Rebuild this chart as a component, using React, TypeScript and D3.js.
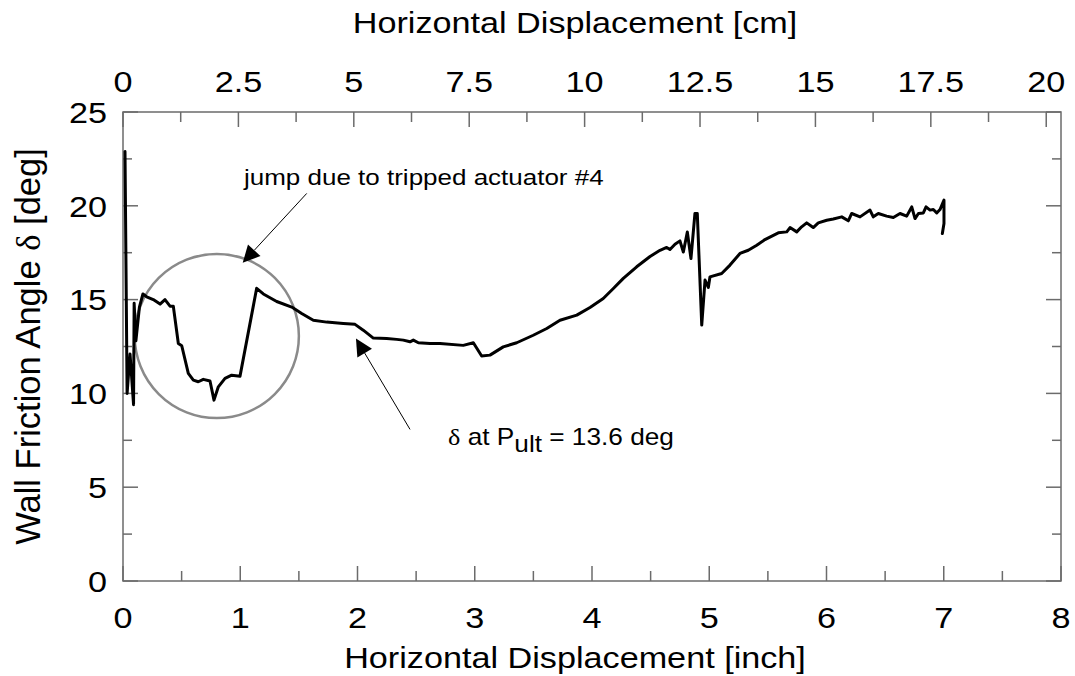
import React from "react";
import * as d3 from "d3";

// ---- data ----
const dispInch: number[] = [
  0.017, 0.035, 0.06, 0.09, 0.095, 0.11, 0.14, 0.17,
  0.202, 0.258, 0.316, 0.358, 0.401, 0.429, 0.472, 0.501, 0.557, 0.600,
  0.642, 0.685, 0.742, 0.776, 0.813, 0.870, 0.927, 0.998, 1.140, 1.197,
  1.311, 1.439, 1.524, 1.623, 1.737, 1.879, 1.979, 2.049, 2.135, 2.249,
  2.334, 2.391, 2.448, 2.476, 2.519, 2.618, 2.704, 2.902, 2.988, 3.059, 3.130, 3.243,
  3.358, 3.499, 3.614, 3.727, 3.870, 3.983, 4.096, 4.182, 4.267, 4.381,
  4.495, 4.580, 4.637, 4.665, 4.708, 4.750, 4.779, 4.813, 4.844, 4.878,
  4.898, 4.936, 4.964, 4.992, 5.006, 5.106, 5.177, 5.262, 5.333, 5.405,
  5.475, 5.589, 5.661, 5.689, 5.746, 5.788, 5.831, 5.887, 5.930, 6.002,
  6.058, 6.130, 6.186, 6.215, 6.286, 6.371, 6.399, 6.442, 6.513, 6.570,
  6.627, 6.684, 6.727, 6.755, 6.784, 6.826, 6.849, 6.883, 6.911, 6.940,
  6.968, 7.002, 7.002, 6.988,
];
const wallAngle: number[] = [
  22.9, 10.0, 12.1, 9.4, 14.8, 12.8, 14.6, 15.3,
  15.15, 15.0, 14.76, 15.0, 14.65, 14.65, 12.66, 12.54, 11.07, 10.71,
  10.62, 10.75, 10.66, 9.64, 10.35, 10.8, 10.97, 10.92, 15.6, 15.3,
  14.9, 14.6, 14.26, 13.9, 13.8, 13.73, 13.68, 13.37, 12.95, 12.93,
  12.88, 12.84, 12.75, 12.84, 12.7, 12.66, 12.66, 12.56, 12.7, 11.99, 12.04, 12.48,
  12.7, 13.1, 13.46, 13.9, 14.17, 14.58, 15.06, 15.59, 16.13, 16.75,
  17.3, 17.63, 17.78, 17.67, 17.95, 18.13, 17.54, 18.6, 17.19, 19.59,
  19.59, 13.64, 16.04, 15.65, 16.21, 16.39, 16.84, 17.46, 17.63, 17.9,
  18.2, 18.56, 18.61, 18.84, 18.61, 18.88, 19.09, 18.84, 19.09, 19.23,
  19.3, 19.41, 19.2, 19.59, 19.41, 19.77, 19.41, 19.59, 19.45, 19.38,
  19.59, 19.45, 19.94, 19.32, 19.59, 19.62, 19.94, 19.77, 19.8, 19.62,
  19.8, 20.3, 19.06, 18.52,
];

const inchTicks: number[] = [0, 1, 2, 3, 4, 5, 6, 7, 8];
const inchMinorTicks: number[] = [0.5, 1.5, 2.5, 3.5, 4.5, 5.5, 6.5, 7.5];
const cmTicks: number[] = [0, 2.5, 5, 7.5, 10, 12.5, 15, 17.5, 20];
const cmMinorTicks: number[] = [1.25, 3.75, 6.25, 8.75, 11.25, 13.75, 16.25, 18.75];
const yTicks: number[] = [0, 5, 10, 15, 20, 25];
const yMinorTicks: number[] = [2.5, 7.5, 12.5, 17.5, 22.5];

// annotation anchors in data units (inch, deg)
const circleCenter = { x: 0.8, y: 13.06, rInch: 0.7 };
const arrow1 = { x1: 1.567, y1: 20.66, x2: 1.021, y2: 16.96 };
const arrow2 = { x1: 2.448, y1: 8.08, x2: 1.987, y2: 12.93 };
const note1 = { x: 1.032, y: 21.1, text: "jump due to tripped actuator #4" };
const note2 = { x: 2.772, y: 7.25 };

const W = 1075;
const H = 676;
const L = 123, R = 1061, T = 112, B = 581;
const SX = 1.14; // horizontal glyph stretch of the reference
const FONT = "'Liberation Sans', Arial, Helvetica, sans-serif";
const AXC = "#6b6b6b";

export default function App() {
  const x = d3.scaleLinear().domain([0, 8]).range([L, R]);
  const xCm = d3.scaleLinear().domain([0, 8 * 2.54]).range([L, R]);
  const y = d3.scaleLinear().domain([0, 25]).range([B, T]);

  const pts = dispInch.map((d, i) => [d, wallAngle[i]] as [number, number]);
  const line = d3
    .line<[number, number]>()
    .x((d) => x(d[0]))
    .y((d) => y(d[1]));

  const stext = (
    key: string,
    tx: number,
    ty: number,
    s: string,
    size: number,
    anchor: string
  ) => (
    <g key={key} transform={`translate(${tx},${ty}) scale(${SX},1)`}>
      <text x={0} y={0} fontSize={size} fontFamily={FONT} textAnchor={anchor} fill="#000">
        {s}
      </text>
    </g>
  );

  const arrowHead = (a: { x1: number; y1: number; x2: number; y2: number }, key: string) => {
    const X1 = x(a.x1), Y1 = y(a.y1), X2 = x(a.x2), Y2 = y(a.y2);
    const dx = X2 - X1, dy = Y2 - Y1;
    const len = Math.hypot(dx, dy);
    const ux = dx / len, uy = dy / len;
    const hl = 17, hw = 8.5;
    const bx = X2 - ux * hl, by = Y2 - uy * hl;
    const p = `${X2},${Y2} ${bx - uy * hw},${by + ux * hw} ${bx + uy * hw},${by - ux * hw}`;
    return (
      <g key={key}>
        <line x1={X1} y1={Y1} x2={bx} y2={by} stroke="#000" strokeWidth={1} />
        <polygon points={p} fill="#000" />
      </g>
    );
  };

  return (
    <svg
      width={W}
      height={H}
      style={{ position: "absolute", left: 0, top: 0, background: "#fff" }}
    >
      <rect x={0} y={0} width={W} height={H} fill="#fff" />

      {/* frame */}
      <rect x={L} y={T} width={R - L} height={B - T} fill="none" stroke={AXC} strokeWidth={1.5} />

      {/* left/right ticks */}
      {yTicks.map((v) => (
        <g key={"yt" + v}>
          <line x1={L} x2={L + 15} y1={y(v)} y2={y(v)} stroke={AXC} strokeWidth={1.5} />
          <line x1={R} x2={R - 15} y1={y(v)} y2={y(v)} stroke={AXC} strokeWidth={1.5} />
        </g>
      ))}
      {yMinorTicks.map((v) => (
        <g key={"ym" + v}>
          <line x1={L} x2={L + 9} y1={y(v)} y2={y(v)} stroke={AXC} strokeWidth={1.5} />
          <line x1={R} x2={R - 9} y1={y(v)} y2={y(v)} stroke={AXC} strokeWidth={1.5} />
        </g>
      ))}
      {/* bottom ticks */}
      {inchTicks.map((v) => (
        <line key={"xt" + v} x1={x(v)} x2={x(v)} y1={B} y2={B - 15} stroke={AXC} strokeWidth={1.5} />
      ))}
      {inchMinorTicks.map((v) => (
        <line key={"xm" + v} x1={x(v)} x2={x(v)} y1={B} y2={B - 10} stroke={AXC} strokeWidth={1.5} />
      ))}
      {/* top ticks */}
      {cmTicks.map((v) => (
        <line key={"ct" + v} x1={xCm(v)} x2={xCm(v)} y1={T} y2={T + 15} stroke={AXC} strokeWidth={1.5} />
      ))}
      {cmMinorTicks.map((v) => (
        <line key={"cm" + v} x1={xCm(v)} x2={xCm(v)} y1={T} y2={T + 10} stroke={AXC} strokeWidth={1.5} />
      ))}

      {/* tick labels */}
      {yTicks.map((v) => stext("yl" + v, L - 16, y(v) + 10.8, String(v), 30, "end"))}
      {inchTicks.map((v) => stext("xl" + v, x(v), B + 47, String(v), 30, "middle"))}
      {cmTicks.map((v) => stext("cl" + v, xCm(v), T - 20, String(v), 30, "middle"))}

      {/* axis titles */}
      {stext("xtitle", 575, 668, "Horizontal Displacement [inch]", 30, "middle")}
      {stext("ttitle", 575, 33, "Horizontal Displacement [cm]", 30, "middle")}
      <text
        transform={`translate(40,${(T + B) / 2}) rotate(-90)`}
        fontSize={34.5}
        fontFamily={FONT}
        textAnchor="middle"
        fill="#000"
      >
        Wall Friction Angle{" "}
        <tspan fontFamily="'Liberation Serif', 'Times New Roman', serif">δ</tspan> [deg]
      </text>

      {/* circle */}
      <circle
        cx={x(circleCenter.x)}
        cy={y(circleCenter.y)}
        r={x(circleCenter.rInch) - x(0)}
        fill="none"
        stroke="#8a8a8a"
        strokeWidth={2.5}
      />

      {/* data */}
      <path
        d={line(pts) || ""}
        fill="none"
        stroke="#000"
        strokeWidth={3}
        strokeLinejoin="round"
        strokeLinecap="round"
      />

      {/* annotations */}
      {arrowHead(arrow1, "a1")}
      {arrowHead(arrow2, "a2")}
      {stext("n1", x(note1.x), y(note1.y), note1.text, 22.8, "start")}
      <g transform={`translate(${x(note2.x)},${y(note2.y)}) scale(${SX},1)`}>
        <text x={0} y={0} fontSize={23} fontFamily={FONT} fill="#000">
          <tspan fontFamily="'Liberation Serif', 'Times New Roman', serif">δ</tspan>
          <tspan> at P</tspan>
          <tspan dy={7}>ult</tspan>
          <tspan dy={-7}> = 13.6 deg</tspan>
        </text>
      </g>
    </svg>
  );
}
